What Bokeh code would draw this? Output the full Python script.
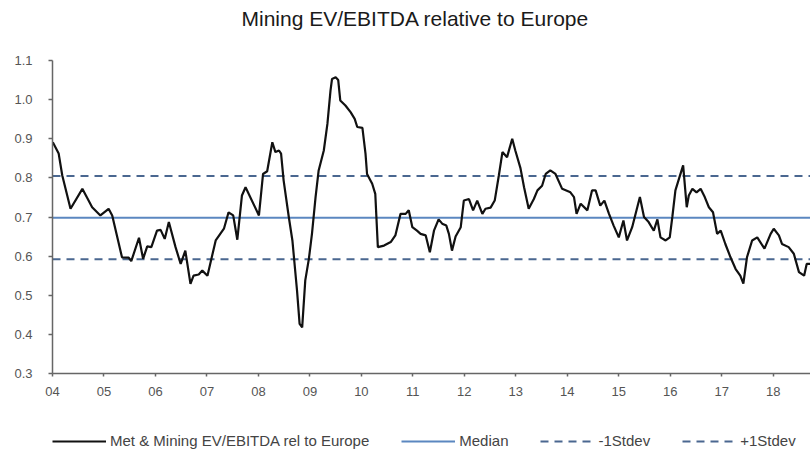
from bokeh.plotting import figure
from bokeh.layouts import column
from bokeh.models import FixedTicker, Legend, LegendItem, Range1d, PrintfTickFormatter
from bokeh.embed import file_html
from bokeh.resources import INLINE

title_text = "Mining EV/EBITDA relative to Europe"
series_name = "Met & Mining EV/EBITDA rel to Europe"

years = [
    2004.006, 2004.12, 2004.19, 2004.35, 2004.58, 2004.77, 2004.93, 2005.09, 2005.16,
    2005.35, 2005.48, 2005.53, 2005.68, 2005.76, 2005.84, 2005.92, 2006.03, 2006.10,
    2006.18, 2006.26, 2006.39, 2006.49, 2006.58, 2006.68, 2006.74, 2006.84, 2006.91,
    2007.01, 2007.17, 2007.33, 2007.42, 2007.51, 2007.59, 2007.68, 2007.75, 2008.01,
    2008.09, 2008.17, 2008.27, 2008.33, 2008.40, 2008.44, 2008.49, 2008.59, 2008.66,
    2008.75, 2008.80, 2008.85, 2008.91, 2008.98, 2009.04, 2009.11, 2009.17, 2009.27,
    2009.34, 2009.40, 2009.43, 2009.50, 2009.55, 2009.59, 2009.69, 2009.79, 2009.87,
    2009.92, 2010.02, 2010.08, 2010.11, 2010.21, 2010.27, 2010.32, 2010.44, 2010.57,
    2010.66, 2010.76, 2010.86, 2010.92, 2010.99, 2011.08, 2011.15, 2011.25, 2011.33,
    2011.41, 2011.50, 2011.57, 2011.65, 2011.70, 2011.76, 2011.83, 2011.93, 2011.99,
    2012.09, 2012.17, 2012.25, 2012.35, 2012.41, 2012.51, 2012.59, 2012.67, 2012.74,
    2012.83, 2012.93, 2012.99, 2013.09, 2013.16, 2013.25, 2013.35, 2013.42, 2013.51,
    2013.58, 2013.67, 2013.77, 2013.90, 2014.06, 2014.13, 2014.18, 2014.26, 2014.39,
    2014.48, 2014.55, 2014.64, 2014.72, 2014.81, 2014.90, 2015.00, 2015.09, 2015.16,
    2015.26, 2015.41, 2015.49, 2015.58, 2015.68, 2015.75, 2015.81, 2015.91, 2015.99,
    2016.04, 2016.10, 2016.17, 2016.25, 2016.32, 2016.36, 2016.43, 2016.51, 2016.59,
    2016.67, 2016.75, 2016.83, 2016.91, 2016.98, 2017.07, 2017.17, 2017.27, 2017.36,
    2017.42, 2017.49, 2017.59, 2017.69, 2017.83, 2017.95, 2018.01, 2018.11, 2018.17,
    2018.30, 2018.40, 2018.50, 2018.60, 2018.65, 2018.72,
]
values = [
    0.891, 0.862, 0.806, 0.721, 0.772, 0.725, 0.704, 0.721, 0.704,
    0.597, 0.596, 0.587, 0.647, 0.593, 0.625, 0.623, 0.665, 0.667,
    0.644, 0.687, 0.623, 0.580, 0.614, 0.529, 0.550, 0.553, 0.563,
    0.550, 0.640, 0.670, 0.712, 0.704, 0.642, 0.755, 0.776, 0.704,
    0.810, 0.817, 0.891, 0.866, 0.870, 0.862, 0.793, 0.700, 0.640,
    0.512, 0.427, 0.418, 0.538, 0.593, 0.657, 0.751, 0.819, 0.870,
    0.938, 1.023, 1.053, 1.057, 1.050, 0.998, 0.985, 0.968, 0.951,
    0.930, 0.928, 0.862, 0.810, 0.785, 0.759, 0.623, 0.627, 0.636,
    0.653, 0.708, 0.708, 0.717, 0.674, 0.665, 0.657, 0.653, 0.610,
    0.665, 0.694, 0.683, 0.678, 0.657, 0.614, 0.650, 0.674, 0.742,
    0.746, 0.717, 0.742, 0.708, 0.721, 0.724, 0.742, 0.806, 0.866,
    0.853, 0.900, 0.870, 0.825, 0.776, 0.721, 0.746, 0.768, 0.780,
    0.810, 0.819, 0.810, 0.772, 0.763, 0.751, 0.708, 0.734, 0.717,
    0.768, 0.768, 0.729, 0.742, 0.708, 0.678, 0.648, 0.691, 0.640,
    0.674, 0.751, 0.700, 0.687, 0.665, 0.694, 0.648, 0.640, 0.648,
    0.700, 0.768, 0.798, 0.832, 0.725, 0.755, 0.772, 0.763, 0.772,
    0.751, 0.725, 0.712, 0.657, 0.665, 0.631, 0.597, 0.567, 0.550,
    0.530, 0.597, 0.640, 0.648, 0.619, 0.657, 0.670, 0.653, 0.631,
    0.623, 0.606, 0.559, 0.550, 0.580, 0.580,
]

median_value = 0.698
minus_1sd = 0.592
plus_1sd = 0.805

x_ticks = list(range(2004, 2019))
x_tick_labels = ["04", "05", "06", "07", "08", "09", "10", "11", "12",
                 "13", "14", "15", "16", "17", "18"]
y_ticks = [0.3, 0.4, 0.5, 0.6, 0.7, 0.8, 0.9, 1.0, 1.1]

x_start = 2004.0
x_end = 2018.724

FONT = "Liberation Sans"

# title strip
pt = figure(width=810, height=45, output_backend="svg", toolbar_location=None,
            x_axis_type=None, y_axis_type=None, min_border=0,
            x_range=Range1d(0, 1), y_range=Range1d(0, 1))
pt.grid.visible = False
pt.outline_line_color = None
pt.title.text = title_text
pt.title.text_font = FONT
pt.title.text_font_size = "21px"
pt.title.text_font_style = "normal"
pt.title.text_color = "#1a1a1a"
pt.title.align = "left"
pt.title.offset = 189
pt.title.vertical_align = "top"
pt.title.standoff = 12

p = figure(width=810, height=370, output_backend="svg", toolbar_location=None,
           x_range=Range1d(x_start, x_end), y_range=Range1d(0.3, 1.1),
           min_border_left=52, min_border_right=0, min_border_top=15,
           min_border_bottom=42)
p.xgrid.visible = False
p.ygrid.visible = False
p.outline_line_color = None
p.background_fill_color = "white"

for ax in (p.xaxis[0], p.yaxis[0]):
    ax.axis_line_color = "#666666"
    ax.axis_line_width = 1.5
    ax.major_tick_line_color = "#666666"
    ax.major_tick_line_width = 1.5
    ax.minor_tick_line_color = None
    ax.major_tick_in = 0
    ax.major_label_text_font = FONT
    ax.major_label_text_font_size = "13px"
    ax.major_label_text_color = "#555555"

p.xaxis.ticker = FixedTicker(ticks=x_ticks)
p.xaxis.major_label_overrides = {t: l for t, l in zip(x_ticks, x_tick_labels)}
p.xaxis.major_tick_out = 3
p.xaxis.major_label_standoff = 10

p.yaxis.ticker = FixedTicker(ticks=y_ticks)
p.yaxis.formatter = PrintfTickFormatter(format="%.1f")
p.yaxis.major_tick_out = 4
p.yaxis.major_label_standoff = 16

main_style = dict(line_color="#111111", line_width=2.2)
med_style = dict(line_color="#5b87c0", line_width=2)
sd_style = dict(line_color="#4a6790", line_width=2, line_dash="8 6")

p.line([x_start, x_end], [plus_1sd, plus_1sd], **sd_style)
p.line([x_start, x_end], [minus_1sd, minus_1sd], **sd_style)
p.line([x_start, x_end], [median_value, median_value], **med_style)
p.line(years, values, **main_style)

# legend strip below the chart (its helper lines lie outside its ranges)
pl = figure(width=810, height=46, output_backend="svg", toolbar_location=None,
            x_axis_type=None, y_axis_type=None, min_border=0,
            x_range=Range1d(0, 1), y_range=Range1d(0, 1))
pl.grid.visible = False
pl.outline_line_color = None
l_main = pl.line(years, values, **main_style)
l_med = pl.line([x_start, x_end], [median_value, median_value], **med_style)
l_lo = pl.line([x_start, x_end], [minus_1sd, minus_1sd], **sd_style)
l_up = pl.line([x_start, x_end], [plus_1sd, plus_1sd], **sd_style)

legend = Legend(items=[LegendItem(label=series_name, renderers=[l_main]),
                       LegendItem(label="Median", renderers=[l_med]),
                       LegendItem(label="-1Stdev", renderers=[l_lo]),
                       LegendItem(label="+1Stdev", renderers=[l_up])],
                location=(0, 12), orientation="horizontal", glyph_width=54,
                glyph_height=14, label_standoff=4, spacing=32, padding=0, margin=0,
                border_line_color=None, background_fill_alpha=0,
                label_text_font=FONT, label_text_font_size="15px",
                label_text_color="#444444")
pl.add_layout(legend)

layout = column(pt, p, pl, spacing=0)
open("out.html", "w").write(file_html(layout, INLINE))
